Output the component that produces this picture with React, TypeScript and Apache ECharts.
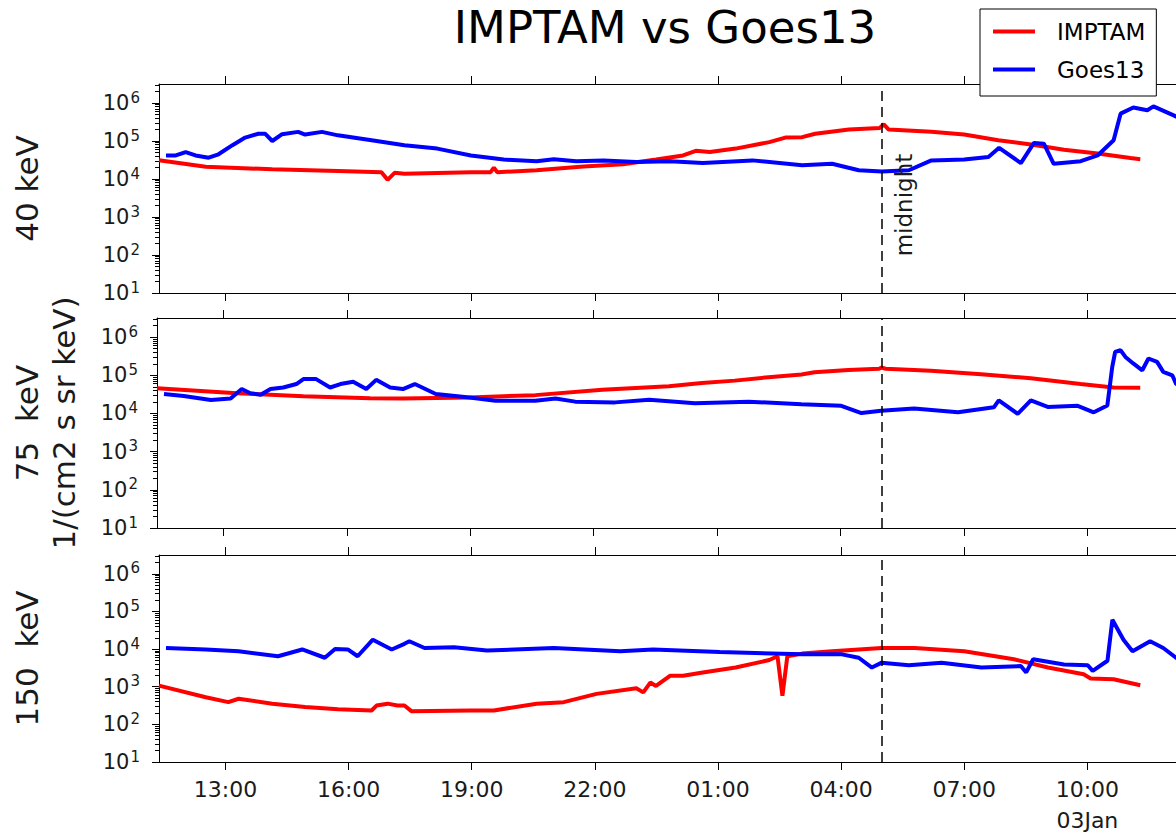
import React, { useEffect, useRef } from "react";
import * as echarts from "echarts";

// ---------- text ----------
const TITLE = "IMPTAM vs Goes13";
const SERIES_NAMES = ["IMPTAM", "Goes13"];
const PANEL_LABELS = ["40 keV", "75  keV\n1/(cm2 s sr keV)", "150  keV"];
const MIDNIGHT_LABEL = "midnight";

// ---------- axes (x in hours since 02 Jan 00:00 UT) ----------
const X_MIN = 11.38;
const X_MAX = 36.16;
const MIDNIGHT_HOUR = 29; // 05:00 on 03 Jan
const X_TICK_HOURS = [13, 16, 19, 22, 25, 28, 31, 34];
const DATE_TICK_HOUR = 34;
const DATE_TICK_TEXT = "03Jan";
const Y_MIN = 10;
const Y_MAX = 3162278; // 10^6.5
const Y_TICKS = [1e1, 1e2, 1e3, 1e4, 1e5, 1e6];
const Y_MINOR_MULTIPLIERS = [2, 3, 4, 5, 6, 7, 8, 9];

// ---------- data: 40 keV ----------
const imptam40Hours = [11.38, 12.52, 14.14, 15.74, 16.8, 16.95, 17.12, 17.36, 18.98, 19.46, 19.54, 19.62, 20.58, 21.72, 22.69, 23.49, 24.15, 24.46, 24.8, 25.43, 26.25, 26.64, 27.05, 27.37, 28.19, 28.94, 29.04, 29.16, 30.2, 31.0, 31.83, 32.63, 33.43, 34.25, 35.05, 35.29];
const imptam40Flux = [31000, 21000, 18000, 16200, 15100, 9500, 14500, 13800, 15100, 15100, 20000, 15100, 17000, 21400, 24500, 32400, 41700, 55000, 51300, 63100, 93300, 123000, 126000, 155000, 200000, 219000, 275000, 200000, 174000, 148000, 104700, 81300, 58900, 46800, 35500, 33100];
const goes40Hours = [11.55, 11.79, 12.03, 12.27, 12.59, 12.83, 13.17, 13.48, 13.8, 13.97, 14.14, 14.38, 14.77, 14.94, 15.35, 15.74, 16.56, 17.36, 18.16, 18.98, 19.78, 20.58, 21.0, 21.55, 22.21, 23.01, 23.83, 24.63, 25.84, 27.05, 27.78, 28.43, 28.99, 29.65, 30.2, 31.0, 31.59, 31.85, 32.38, 32.7, 32.94, 33.18, 33.84, 34.25, 34.64, 34.81, 35.12, 35.46, 35.61, 36.09, 36.45];
const goes40Flux = [41700, 41700, 51300, 41700, 36300, 44700, 77600, 123000, 155000, 155000, 100000, 151000, 174000, 148000, 174000, 141000, 104700, 77600, 63100, 41700, 32400, 29500, 33100, 29500, 30900, 28200, 29500, 26300, 30900, 22900, 25100, 17000, 15850, 17000, 30900, 32400, 38000, 66100, 26300, 89100, 85100, 25100, 29500, 41700, 104700, 525000, 759000, 646000, 813000, 479000, 316000];

// ---------- data: 75 keV ----------
const imptam75Hours = [11.38, 13.32, 14.94, 16.56, 17.36, 18.98, 20.58, 22.21, 23.83, 24.63, 25.43, 26.25, 27.05, 27.37, 28.19, 28.94, 29.0, 29.1, 30.2, 31.42, 32.63, 33.84, 34.64, 35.29];
const imptam75Flux = [45700, 33900, 28200, 25100, 24550, 26300, 30200, 41700, 51300, 63100, 72400, 89100, 105000, 120000, 138000, 148000, 158000, 148000, 132000, 107000, 83200, 58900, 47900, 46800];
const goes75Hours = [11.55, 12.03, 12.69, 13.17, 13.44, 13.65, 13.9, 14.14, 14.45, 14.77, 14.94, 15.25, 15.59, 15.84, 16.15, 16.47, 16.71, 17.05, 17.36, 17.65, 18.16, 18.98, 19.61, 20.58, 21.07, 21.55, 22.52, 23.35, 24.46, 25.77, 27.05, 28.02, 28.51, 28.99, 29.79, 30.86, 31.73, 31.85, 32.31, 32.63, 33.04, 33.77, 34.16, 34.49, 34.61, 34.68, 34.81, 34.93, 35.12, 35.34, 35.49, 35.7, 35.85, 36.07, 36.16, 36.45];
const goes75Flux = [32400, 28800, 22400, 24550, 43600, 33900, 30900, 43600, 47900, 58900, 79400, 79400, 47900, 58900, 67600, 43600, 75900, 47900, 43600, 58900, 32400, 26300, 21380, 21380, 24550, 20400, 19500, 22900, 18620, 20400, 17380, 15850, 10233, 11749, 13490, 10715, 14450, 21900, 9772, 21900, 14800, 15850, 10715, 16200, 166000, 407000, 457000, 302000, 204000, 135000, 275000, 224000, 123000, 100000, 60300, 40000];

// ---------- data: 150 keV ----------
const imptam150Hours = [11.38, 12.52, 13.07, 13.32, 14.14, 14.94, 15.74, 16.56, 16.68, 16.95, 17.19, 17.36, 17.53, 18.98, 19.54, 20.58, 21.24, 22.04, 23.01, 23.18, 23.35, 23.49, 23.83, 24.15, 24.63, 25.43, 26.25, 26.45, 26.57, 26.69, 27.05, 27.78, 28.99, 29.79, 31.0, 32.21, 33.04, 33.91, 34.08, 34.64, 35.29];
const imptam150Flux = [1072, 525, 389, 479, 355, 288, 251, 234, 316, 355, 316, 316, 224, 234, 234, 355, 389, 646, 912, 708, 1288, 1047, 1950, 1950, 2399, 3236, 5129, 6457, 575, 6457, 7586, 8710, 10715, 10715, 8710, 5370, 3236, 2138, 1660, 1585, 1096];
const goes150Hours = [11.55, 12.52, 13.32, 14.28, 14.87, 15.42, 15.67, 15.98, 16.22, 16.59, 17.05, 17.36, 17.48, 17.85, 18.57, 19.37, 21.0, 22.62, 23.42, 25.04, 27.05, 28.02, 28.43, 28.75, 28.99, 29.65, 30.45, 31.42, 32.38, 32.51, 32.68, 33.43, 34.01, 34.13, 34.49, 34.61, 34.88, 35.1, 35.53, 35.85, 36.16, 36.45];
const goes150Flux = [10715, 9772, 8710, 6457, 9772, 5888, 10000, 9772, 6457, 17780, 9772, 13800, 16200, 10715, 11220, 9120, 10715, 8710, 9772, 8318, 7244, 7244, 5888, 3236, 4365, 3715, 4365, 3236, 3548, 2399, 5370, 3890, 3715, 2630, 4900, 60300, 17780, 8710, 16200, 10715, 5888, 4000];

const IMPTAM_HOURS = [imptam40Hours, imptam75Hours, imptam150Hours];
const IMPTAM_FLUX = [imptam40Flux, imptam75Flux, imptam150Flux];
const GOES_HOURS = [goes40Hours, goes75Hours, goes150Hours];
const GOES_FLUX = [goes40Flux, goes75Flux, goes150Flux];

// ---------- styling ----------
const FONT = "DejaVu Sans";
const RED = "#ff0000";
const BLUE = "#0000ff";
const GRID_TOPS = [84, 318, 555];
const GRID_HEIGHTS = [209, 210, 209];
const NAME_GAPS = [114, 75, 114];

function fmtY(v: number): string {
  const e = Math.round(Math.log10(v));
  return "{b|10}{s|" + e + "}";
}
function fmtX(v: number): string {
  const h = ((Math.round(v) % 24) + 24) % 24;
  const s = String(h).padStart(2, "0") + ":00";
  return Math.round(v) === DATE_TICK_HOUR ? s + "\n" + DATE_TICK_TEXT : s;
}
const toPairs = (xs: number[], ys: number[]) => xs.map((x, i) => [x, ys[i]]);

function buildOption(): any {
  const minorTicks: number[] = [];
  for (const t of Y_TICKS) for (const m of Y_MINOR_MULTIPLIERS) {
    const v = t * m;
    if (v <= Y_MAX) minorTicks.push(v);
  }
  const axisLine = { show: true, onZero: false, lineStyle: { color: "#000", width: 1 } };
  const grid: any[] = [];
  const xAxis: any[] = [];
  const yAxis: any[] = [];
  const series: any[] = [];

  PANEL_LABELS.forEach((label, i) => {
    grid.push({ left: 153, right: 0, top: GRID_TOPS[i], height: GRID_HEIGHTS[i], containLabel: false });
    xAxis.push({
      type: "value", gridIndex: i, position: "bottom", min: X_MIN, max: X_MAX,
      axisLine,
      axisTick: { show: true, inside: false, length: 8, customValues: X_TICK_HOURS, lineStyle: { color: "#000", width: 1 } },
      axisLabel: {
        show: i === 2, customValues: X_TICK_HOURS, formatter: fmtX,
        fontSize: 22, fontFamily: FONT, color: "#1a1a1a", margin: 12, lineHeight: 31,
      },
      splitLine: { show: false },
    });
    xAxis.push({
      type: "value", gridIndex: i, position: "top", min: X_MIN, max: X_MAX,
      axisLine,
      axisTick: { show: true, inside: false, length: 8, customValues: X_TICK_HOURS, lineStyle: { color: "#000", width: 1 } },
      axisLabel: { show: false },
      splitLine: { show: false },
    });
    yAxis.push({
      type: "log", logBase: 10, gridIndex: i, position: "left", min: Y_MIN, max: Y_MAX,
      name: label, nameLocation: "middle", nameGap: NAME_GAPS[i], nameRotate: 90,
      nameTextStyle: { fontSize: 31, fontFamily: FONT, color: "#1a1a1a", lineHeight: 37 },
      axisLine,
      axisTick: { show: true, inside: false, length: 7, customValues: Y_TICKS, lineStyle: { color: "#000", width: 1 } },
      axisLabel: {
        show: true, customValues: Y_TICKS, formatter: fmtY, margin: 19, color: "#1a1a1a",
        rich: {
          b: { fontSize: 21, fontFamily: FONT, color: "#1a1a1a", lineHeight: 26 },
          s: { fontSize: 15, fontFamily: FONT, color: "#1a1a1a", lineHeight: 15, padding: [0, 0, 11, 1], verticalAlign: "bottom" },
        },
      },
      splitLine: { show: false },
    });
    yAxis.push({
      type: "log", logBase: 10, gridIndex: i, position: "left", min: Y_MIN, max: Y_MAX,
      axisLine: { show: false },
      axisTick: { show: true, inside: false, length: 4, customValues: minorTicks, lineStyle: { color: "#000", width: 1 } },
      axisLabel: { show: false },
      splitLine: { show: false },
    });

    series.push({
      name: SERIES_NAMES[0], type: "line", xAxisIndex: 2 * i, yAxisIndex: 2 * i,
      data: toPairs(IMPTAM_HOURS[i], IMPTAM_FLUX[i]),
      showSymbol: false, symbol: "none", lineStyle: { color: RED, width: 4 }, itemStyle: { color: RED },
      z: 3,
      markLine: {
        silent: true, symbol: ["none", "none"], animation: false,
        label: { show: false },
        lineStyle: { color: "#000", width: 1.5, type: [10, 6] },
        data: [{ xAxis: MIDNIGHT_HOUR }],
      },
    });
    series.push({
      name: SERIES_NAMES[1], type: "line", xAxisIndex: 2 * i, yAxisIndex: 2 * i,
      data: toPairs(GOES_HOURS[i], GOES_FLUX[i]),
      showSymbol: false, symbol: "none", lineStyle: { color: BLUE, width: 4 }, itemStyle: { color: BLUE },
      z: 3,
    });
  });

  return {
    animation: false,
    backgroundColor: "#fff",
    title: {
      text: TITLE, left: 665, top: 4, padding: 0, textAlign: "center",
      textStyle: { fontSize: 45, fontFamily: FONT, fontWeight: "normal", color: "#000", lineHeight: 46 },
    },
    legend: {
      data: SERIES_NAMES, orient: "vertical", left: 980, top: 9,
      padding: [11, 11, 15, 13], itemGap: 15, itemWidth: 42, itemHeight: 4, icon: "rect",
      borderColor: "#000", borderWidth: 1, backgroundColor: "#fff",
      textStyle: { fontSize: 23, fontFamily: FONT, color: "#000", padding: [0, 0, 0, 17] },
      z: 10,
    },
    grid, xAxis, yAxis, series,
    graphic: [
      {
        type: "text", x: 904, y: 205, rotation: Math.PI / 2, z: 20,
        style: { text: MIDNIGHT_LABEL, fontSize: 23, fontFamily: FONT, fill: "#1a1a1a", align: "center", verticalAlign: "middle" },
      },
    ],
  };
}

export default function App() {
  const ref = useRef<HTMLDivElement>(null);
  useEffect(() => {
    document.body.style.margin = "0";
    document.body.style.overflow = "hidden";
    if (!ref.current) return;
    const chart = echarts.init(ref.current, undefined, { renderer: "svg" });
    chart.setOption(buildOption());
    return () => chart.dispose();
  }, []);
  return <div ref={ref} style={{ width: 1176, height: 836, background: "#fff", overflow: "hidden" }} />;
}
